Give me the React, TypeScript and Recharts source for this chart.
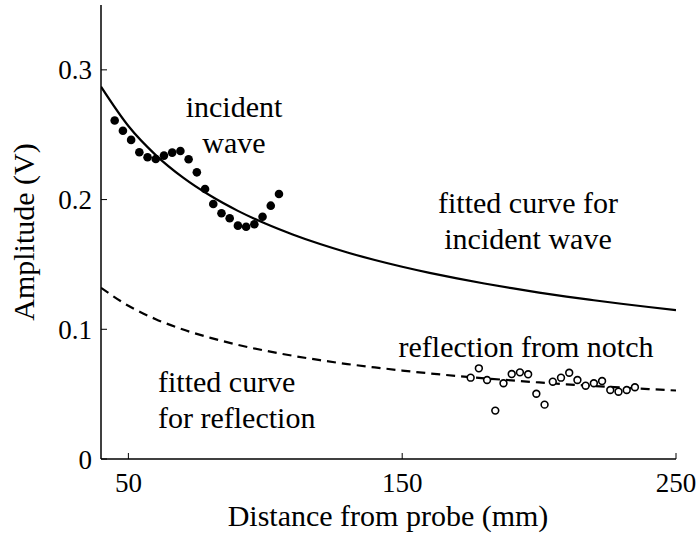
import React from "react";
import {
  ComposedChart,
  Line,
  Scatter,
  XAxis,
  YAxis,
} from "recharts";

// Measured amplitudes of the incident wave (filled dots)
const incidentX = [45, 48, 51, 54, 57, 60, 63, 66, 69, 72, 75, 78, 81, 84, 87, 90, 93, 96, 99, 102, 105];
const incidentY = [
  0.261, 0.253, 0.246, 0.2365, 0.2326, 0.2313, 0.2339, 0.2362, 0.2375, 0.2311, 0.221,
  0.2082, 0.1966, 0.1894, 0.1856, 0.1799, 0.1791, 0.181, 0.1868, 0.1953, 0.2043,
];

// Measured amplitudes of the reflection from the notch (open circles)
const reflectionX = [175, 178, 181, 184, 187, 190, 193, 196, 199, 202, 205, 208, 211, 214, 217, 220, 223, 226, 229, 232, 235];
const reflectionY = [
  0.0627, 0.0699, 0.0609, 0.0373, 0.0584, 0.0655, 0.0668, 0.0653, 0.0503, 0.0419, 0.0596,
  0.0627, 0.0665, 0.0609, 0.0565, 0.0584, 0.0601, 0.0532, 0.0519, 0.0532, 0.0553,
];

// Fitted curves sampled along the distance axis
const curveX = [40, 50, 60, 70, 80, 90, 100, 110, 120, 130, 140, 150, 160, 170, 180, 190, 200, 210, 220, 230, 240, 250];
const fitIncident = [
  0.287, 0.2567, 0.2343, 0.2169, 0.2029, 0.1913, 0.1815, 0.1731, 0.1657, 0.1592, 0.1534,
  0.1482, 0.1435, 0.1392, 0.1353, 0.1317, 0.1283, 0.1252, 0.1224, 0.1197, 0.1172, 0.1148,
];
const fitReflection = [
  0.132, 0.1181, 0.1078, 0.0998, 0.0934, 0.088, 0.0835, 0.0796, 0.0762, 0.0732, 0.0706,
  0.0682, 0.066, 0.064, 0.0622, 0.0606, 0.059, 0.0576, 0.0563, 0.0551, 0.0539, 0.0528,
];

const xTicks = [50, 150, 250];
const yTicks = [0, 0.1, 0.2, 0.3];
const yTickLabels = ["0", "0.1", "0.2", "0.3"];

const incidentData = incidentX.map((x, i) => ({ x, y: incidentY[i] }));
const reflectionData = reflectionX.map((x, i) => ({ x, y: reflectionY[i] }));
const fitIncidentData = curveX.map((x, i) => ({ x, y: fitIncident[i] }));
const fitReflectionData = curveX.map((x, i) => ({ x, y: fitReflection[i] }));

const W = 698;
const H = 535;
const FONT = "'Liberation Serif', 'DejaVu Serif', serif";

const FilledDot = (props: any) => {
  const { cx, cy } = props;
  return <circle cx={cx} cy={cy} r={4.3} fill="#000" />;
};

const OpenDot = (props: any) => {
  const { cx, cy } = props;
  return <circle cx={cx} cy={cy} r={3.4} fill="#fff" stroke="#000" strokeWidth={1.6} />;
};

const txt = { fontFamily: FONT, fill: "#000" } as const;

export default function App() {
  const tickStyle = { fontSize: 27, fill: "#000", fontFamily: FONT };
  return (
    <div style={{ position: "absolute", left: 0, top: 0, width: W, height: H, background: "#fff" }}>
      <ComposedChart
        width={W}
        height={H}
        margin={{ top: 5, right: 22, bottom: 0, left: 0 }}
      >
        <XAxis
          xAxisId="b"
          dataKey="x"
          type="number"
          domain={[40, 250]}
          ticks={xTicks}
          orientation="bottom"
          height={76}
          tickSize={-6}
          tickMargin={20}
          tick={tickStyle}
          axisLine={{ stroke: "#000", strokeWidth: 1.5 }}
          tickLine={{ stroke: "#000" }}
          allowDataOverflow
        />
        <XAxis
          xAxisId="t"
          dataKey="x"
          type="number"
          domain={[40, 250]}
          ticks={xTicks}
          orientation="top"
          height={0}
          tickSize={-6}
          tick={false}
          axisLine={{ stroke: "#000", strokeWidth: 1.5 }}
          tickLine={{ stroke: "#000" }}
          allowDataOverflow
        />
        <YAxis
          yAxisId="l"
          dataKey="y"
          type="number"
          domain={[0, 0.35]}
          ticks={yTicks}
          width={101}
          tickSize={-6}
          tickMargin={15}
          tick={tickStyle}
          tickFormatter={(v: number) => yTickLabels[yTicks.indexOf(v)] ?? String(v)}
          axisLine={{ stroke: "#000", strokeWidth: 1.5 }}
          tickLine={{ stroke: "#000" }}
          allowDataOverflow
        />
        <YAxis
          yAxisId="r"
          dataKey="y"
          type="number"
          orientation="right"
          domain={[0, 0.35]}
          ticks={yTicks}
          width={0}
          tickSize={-6}
          tick={false}
          axisLine={{ stroke: "#000", strokeWidth: 1.5 }}
          tickLine={{ stroke: "#000" }}
          allowDataOverflow
        />
        <Line
          xAxisId="b"
          yAxisId="l"
          data={fitIncidentData}
          dataKey="y"
          type="monotone"
          stroke="#000"
          strokeWidth={2.2}
          dot={false}
          activeDot={false}
          isAnimationActive={false}
        />
        <Line
          xAxisId="b"
          yAxisId="l"
          data={fitReflectionData}
          dataKey="y"
          type="monotone"
          stroke="#000"
          strokeWidth={2.2}
          strokeDasharray="9 6"
          dot={false}
          activeDot={false}
          isAnimationActive={false}
        />
        <Scatter
          xAxisId="b"
          yAxisId="l"
          data={incidentData}
          dataKey="y"
          shape={<FilledDot />}
          isAnimationActive={false}
        />
        <Scatter
          xAxisId="b"
          yAxisId="l"
          data={reflectionData}
          dataKey="y"
          shape={<OpenDot />}
          isAnimationActive={false}
        />
      </ComposedChart>
      <svg
        width={W}
        height={H}
        style={{ position: "absolute", left: 0, top: 0, pointerEvents: "none" }}
      >
        <text {...txt} x={388} y={526} fontSize={30} textAnchor="middle">Distance from probe (mm)</text>
        <text {...txt} x={34} y={232} fontSize={30} textAnchor="middle" transform="rotate(-90 34 232)">Amplitude (V)</text>
        <text {...txt} x={234} y={117} fontSize={30} textAnchor="middle">incident</text>
        <text {...txt} x={234} y={153} fontSize={30} textAnchor="middle">wave</text>
        <text {...txt} x={528} y={213} fontSize={30} textAnchor="middle">fitted curve for</text>
        <text {...txt} x={528} y={249} fontSize={30} textAnchor="middle">incident wave</text>
        <text {...txt} x={526} y={357} fontSize={30} textAnchor="middle">reflection from notch</text>
        <text {...txt} x={158} y={392} fontSize={30}>fitted curve</text>
        <text {...txt} x={158} y={428} fontSize={30}>for reflection</text>
      </svg>
    </div>
  );
}
